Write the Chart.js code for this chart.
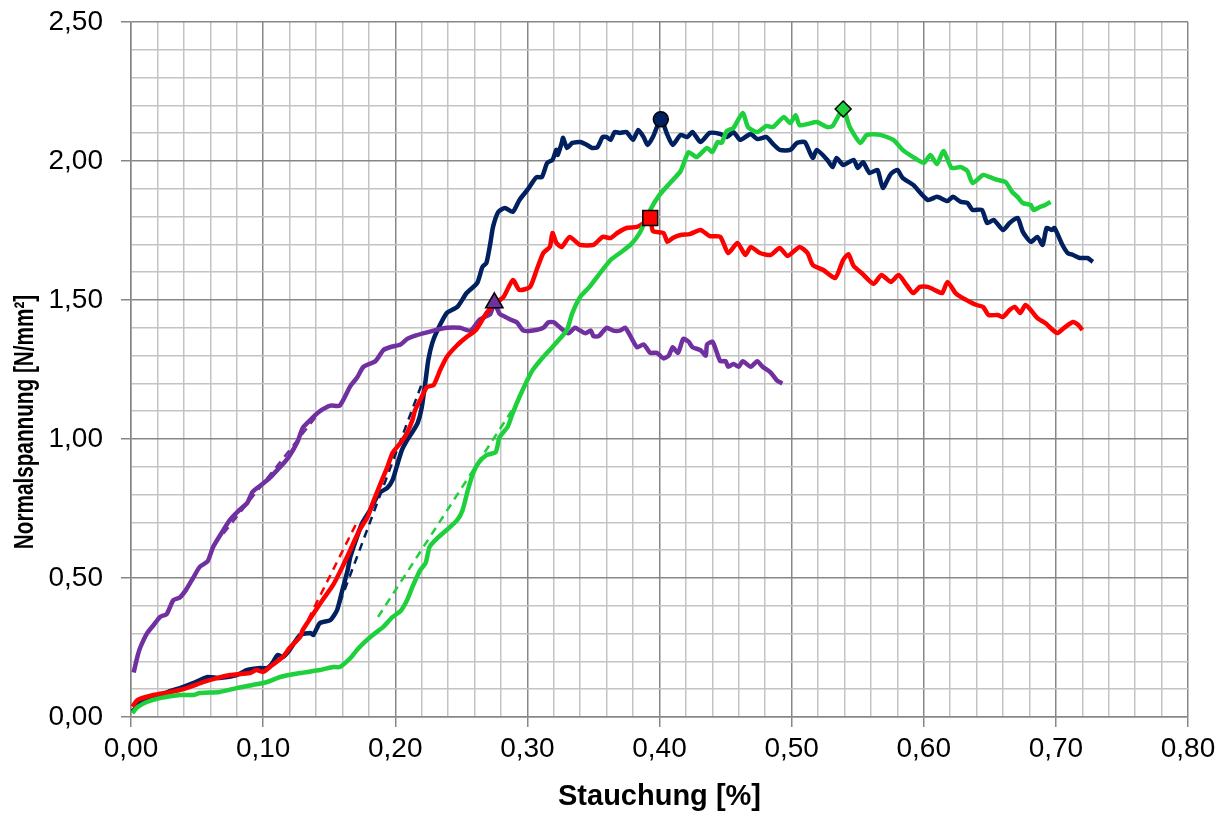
<!DOCTYPE html>
<html>
<head>
<meta charset="utf-8">
<script src="https://cdn.jsdelivr.net/npm/chart.js@4.4.1/dist/chart.umd.min.js"></script>
<style>
    html, body { margin: 0; padding: 0; background: #fff; }
    canvas { display: block; }
</style>
</head>
<body>
<canvas id="chart" width="1228" height="814"></canvas>
<script>
// Stauchung [%] -> Normalspannung [N/mm²]
const navy = [
    [0.001,0.019],[0.007,0.050],[0.014,0.065],[0.022,0.079],[0.030,0.094],[0.037,0.104],[0.047,0.122],[0.058,0.144],
    [0.067,0.140],[0.080,0.151],[0.088,0.169],[0.098,0.176],[0.103,0.176],[0.107,0.194],[0.111,0.223],[0.115,0.216],
    [0.120,0.241],[0.128,0.295],[0.136,0.302],[0.138,0.295],[0.143,0.338],[0.151,0.349],[0.156,0.385],[0.160,0.457],
    [0.164,0.529],[0.166,0.576],[0.171,0.647],[0.175,0.698],[0.181,0.745],[0.188,0.806],[0.194,0.824],[0.198,0.853],
    [0.201,0.899],[0.205,0.960],[0.209,0.996],[0.213,1.025],[0.217,1.058],[0.220,1.112],[0.223,1.212],[0.225,1.284],
    [0.228,1.345],[0.232,1.392],[0.239,1.453],[0.247,1.475],[0.254,1.525],[0.262,1.561],[0.266,1.619],[0.269,1.633],
    [0.272,1.705],[0.274,1.763],[0.278,1.817],[0.283,1.831],[0.289,1.817],[0.294,1.860],[0.300,1.896],[0.304,1.924],
    [0.307,1.942],[0.311,1.942],[0.315,1.993],[0.319,2.004],[0.321,2.029],[0.322,2.040],[0.323,2.022],[0.326,2.065],
    [0.327,2.083],[0.330,2.047],[0.334,2.065],[0.340,2.068],[0.345,2.058],[0.349,2.047],[0.353,2.050],[0.357,2.086],
    [0.360,2.086],[0.363,2.076],[0.366,2.104],[0.370,2.101],[0.375,2.104],[0.380,2.076],[0.384,2.112],[0.388,2.086],
    [0.391,2.058],[0.395,2.086],[0.401,2.151],[0.406,2.094],[0.410,2.058],[0.416,2.094],[0.421,2.086],[0.425,2.104],
    [0.431,2.068],[0.438,2.101],[0.446,2.097],[0.451,2.086],[0.456,2.104],[0.461,2.076],[0.469,2.097],[0.474,2.079],
    [0.481,2.086],[0.486,2.061],[0.491,2.040],[0.499,2.040],[0.504,2.065],[0.510,2.068],[0.516,2.011],[0.519,2.040],
    [0.527,2.004],[0.531,1.978],[0.534,2.011],[0.539,1.986],[0.547,2.004],[0.550,1.975],[0.554,1.996],[0.559,1.957],
    [0.565,1.968],[0.569,1.903],[0.575,1.953],[0.580,1.968],[0.584,1.939],[0.592,1.914],[0.603,1.860],[0.610,1.871],
    [0.618,1.856],[0.622,1.871],[0.628,1.853],[0.633,1.849],[0.637,1.824],[0.644,1.824],[0.648,1.777],[0.653,1.788],
    [0.660,1.752],[0.665,1.777],[0.671,1.795],[0.675,1.745],[0.681,1.709],[0.686,1.727],[0.690,1.698],[0.693,1.759],
    [0.697,1.752],[0.699,1.759],[0.705,1.698],[0.709,1.669],[0.713,1.662],[0.718,1.651],[0.724,1.651],[0.728,1.637]
];
const red = [
    [0.001,0.037],[0.005,0.061],[0.017,0.079],[0.030,0.090],[0.042,0.104],[0.055,0.126],[0.065,0.140],[0.075,0.151],
    [0.090,0.158],[0.095,0.169],[0.100,0.162],[0.107,0.187],[0.115,0.216],[0.120,0.248],[0.128,0.288],[0.130,0.313],
    [0.138,0.371],[0.145,0.421],[0.153,0.475],[0.160,0.540],[0.166,0.601],[0.173,0.673],[0.179,0.719],[0.183,0.770],
    [0.190,0.853],[0.194,0.899],[0.198,0.950],[0.204,0.986],[0.209,1.022],[0.213,1.068],[0.215,1.104],[0.220,1.151],
    [0.224,1.187],[0.229,1.194],[0.234,1.248],[0.239,1.295],[0.247,1.338],[0.254,1.367],[0.261,1.392],[0.269,1.453],
    [0.276,1.489],[0.282,1.511],[0.289,1.572],[0.294,1.536],[0.302,1.547],[0.307,1.608],[0.312,1.669],[0.317,1.691],
    [0.319,1.741],[0.322,1.705],[0.326,1.691],[0.332,1.727],[0.340,1.698],[0.350,1.698],[0.357,1.727],[0.363,1.723],
    [0.368,1.741],[0.375,1.759],[0.383,1.763],[0.388,1.777],[0.393,1.795],[0.395,1.748],[0.403,1.741],[0.406,1.709],
    [0.410,1.723],[0.416,1.734],[0.423,1.737],[0.431,1.752],[0.438,1.730],[0.446,1.727],[0.452,1.669],[0.459,1.705],
    [0.465,1.662],[0.469,1.691],[0.476,1.669],[0.484,1.662],[0.491,1.687],[0.497,1.658],[0.506,1.691],[0.512,1.669],
    [0.516,1.626],[0.524,1.608],[0.533,1.579],[0.539,1.644],[0.543,1.665],[0.547,1.622],[0.553,1.597],[0.562,1.558],
    [0.568,1.590],[0.575,1.565],[0.581,1.590],[0.587,1.554],[0.592,1.525],[0.597,1.547],[0.603,1.547],[0.610,1.532],
    [0.614,1.525],[0.618,1.565],[0.624,1.525],[0.628,1.511],[0.635,1.493],[0.640,1.482],[0.645,1.475],[0.649,1.446],
    [0.656,1.446],[0.660,1.439],[0.665,1.464],[0.669,1.475],[0.673,1.453],[0.677,1.482],[0.681,1.464],[0.686,1.435],
    [0.692,1.417],[0.696,1.399],[0.701,1.381],[0.706,1.399],[0.713,1.421],[0.717,1.410],[0.720,1.392]
];
const green = [
    [0.001,0.014],[0.005,0.036],[0.012,0.054],[0.022,0.068],[0.037,0.079],[0.047,0.079],[0.052,0.086],[0.067,0.090],
    [0.080,0.104],[0.092,0.115],[0.103,0.126],[0.113,0.144],[0.128,0.158],[0.143,0.169],[0.153,0.180],[0.158,0.180],
    [0.166,0.212],[0.171,0.241],[0.176,0.266],[0.183,0.295],[0.191,0.324],[0.198,0.360],[0.204,0.381],[0.209,0.421],
    [0.213,0.468],[0.219,0.529],[0.223,0.554],[0.226,0.612],[0.232,0.644],[0.239,0.673],[0.247,0.709],[0.251,0.745],
    [0.255,0.817],[0.259,0.878],[0.263,0.914],[0.269,0.942],[0.276,0.953],[0.279,1.007],[0.285,1.043],[0.289,1.094],
    [0.294,1.151],[0.300,1.212],[0.304,1.248],[0.312,1.295],[0.319,1.331],[0.325,1.363],[0.330,1.392],[0.334,1.453],
    [0.340,1.511],[0.347,1.547],[0.355,1.597],[0.363,1.644],[0.370,1.669],[0.378,1.698],[0.385,1.741],[0.393,1.824],
    [0.400,1.878],[0.408,1.921],[0.416,1.964],[0.422,2.032],[0.428,2.014],[0.436,2.047],[0.440,2.032],[0.444,2.068],
    [0.447,2.065],[0.451,2.108],[0.456,2.119],[0.463,2.173],[0.467,2.122],[0.474,2.104],[0.481,2.126],[0.486,2.122],
    [0.494,2.158],[0.499,2.137],[0.503,2.165],[0.506,2.129],[0.512,2.133],[0.519,2.140],[0.527,2.122],[0.531,2.126],
    [0.539,2.187],[0.544,2.122],[0.552,2.065],[0.557,2.094],[0.567,2.094],[0.577,2.076],[0.584,2.040],[0.592,2.014],
    [0.600,1.993],[0.605,2.022],[0.610,1.989],[0.615,2.036],[0.621,1.975],[0.628,1.978],[0.633,1.964],[0.637,1.921],
    [0.645,1.950],[0.650,1.942],[0.656,1.932],[0.662,1.924],[0.667,1.888],[0.671,1.871],[0.675,1.849],[0.681,1.842],
    [0.683,1.824],[0.688,1.835],[0.692,1.842],[0.696,1.853]
];
const purple = [
    [0.002,0.16],[0.005,0.22],[0.007,0.25],[0.012,0.30],[0.017,0.33],[0.022,0.36],[0.027,0.37],[0.032,0.42],
    [0.037,0.43],[0.042,0.46],[0.047,0.50],[0.052,0.54],[0.058,0.56],[0.062,0.61],[0.067,0.65],[0.075,0.71],
    [0.081,0.74],[0.088,0.77],[0.092,0.81],[0.100,0.84],[0.105,0.86],[0.111,0.89],[0.115,0.91],[0.120,0.94],
    [0.126,0.99],[0.130,1.04],[0.136,1.07],[0.143,1.10],[0.151,1.12],[0.158,1.12],[0.166,1.19],[0.171,1.22],
    [0.176,1.26],[0.185,1.28],[0.191,1.32],[0.196,1.33],[0.204,1.34],[0.209,1.36],[0.214,1.37],[0.221,1.38],
    [0.229,1.39],[0.239,1.40],[0.249,1.40],[0.257,1.39],[0.264,1.43],[0.272,1.45],[0.275,1.49],[0.279,1.45],
    [0.283,1.44],[0.287,1.43],[0.292,1.42],[0.297,1.39],[0.304,1.39],[0.312,1.40],[0.316,1.42],[0.320,1.42],
    [0.325,1.40],[0.331,1.38],[0.336,1.40],[0.340,1.39],[0.344,1.38],[0.348,1.39],[0.350,1.37],[0.354,1.37],
    [0.360,1.40],[0.365,1.39],[0.370,1.39],[0.374,1.40],[0.378,1.37],[0.383,1.33],[0.388,1.34],[0.393,1.31],
    [0.398,1.31],[0.403,1.29],[0.407,1.30],[0.410,1.33],[0.414,1.31],[0.418,1.36],[0.422,1.35],[0.425,1.33],
    [0.431,1.32],[0.435,1.30],[0.436,1.34],[0.440,1.35],[0.442,1.33],[0.446,1.28],[0.450,1.28],[0.452,1.26],
    [0.456,1.27],[0.460,1.26],[0.463,1.28],[0.469,1.26],[0.474,1.28],[0.478,1.26],[0.484,1.24],[0.489,1.21],
    [0.493,1.20]
];

// dashed straight fits in the rising part
const navyFit = [[0.158, 0.41], [0.221, 1.21]];
const redFit = [[0.134, 0.35], [0.172, 0.71]];
const greenFit = [[0.187, 0.36], [0.292, 1.13]];
const purpleFit = [[0.070, 0.66], [0.140, 1.08]];

// peak points
const navyPeak = [0.401, 2.15];
const redPeak = [0.393, 1.795];
const greenPeak = [0.539, 2.187];
const purplePeak = [0.275, 1.49];

const xLabel = "Stauchung [%]";
const yLabel = "Normalspannung [N/mm²]";

const NAVY = "#002060";
const RED = "#ff0000";
const GREEN = "#1ed03c";
const PURPLE = "#7030a0";
const FONT = "'Liberation Sans', Arial, sans-serif";

const isMajor = (v, per) => Math.abs(v * per - Math.round(v * per)) < 1e-6;
const fmt = (v) => v.toFixed(2).replace(".", ",");
const toPts = (arr) => arr.map((p) => ({ x: p[0], y: p[1] }));

function curve(data, color, order) {
    return {
        data: toPts(data),
        borderColor: color,
        backgroundColor: color,
        borderWidth: 4.5,
        pointRadius: 0,
        showLine: true,
        tension: 0.2,
        order: order,
    };
}
function fit(data, color) {
    return {
        data: toPts(data),
        borderColor: color,
        borderWidth: 2.5,
        borderDash: [8, 6],
        pointRadius: 0,
        showLine: true,
        order: 9,
    };
}
function peak(p, color, style, r) {
    return {
        data: [{ x: p[0], y: p[1] }],
        pointStyle: style,
        pointRadius: r,
        pointBackgroundColor: color,
        pointBorderColor: "#000",
        pointBorderWidth: 1.5,
        showLine: false,
        order: 0,
    };
}

function gridColor(per) {
    return (ctx) => (isMajor(ctx.tick.value, per) ? "#878787" : "#c3c3c3");
}
function tickColor(per) {
    return (ctx) => (isMajor(ctx.tick.value, per) ? "#878787" : "rgba(0,0,0,0)");
}

// the y title sits a bit below the middle and is set in a narrow face
const yTitle = {
    id: "yTitle",
    afterDraw(chart) {
        const ctx = chart.ctx;
        ctx.save();
        ctx.translate(25, 422);
        ctx.rotate(-Math.PI / 2);
        ctx.scale(0.74, 1);
        ctx.font = "bold 28px " + FONT;
        ctx.fillStyle = "#000";
        ctx.textAlign = "center";
        ctx.textBaseline = "middle";
        ctx.fillText(yLabel, 0, 0);
        ctx.restore();
    },
};

new Chart(document.getElementById("chart"), {
    type: "scatter",
    data: {
        datasets: [
            curve(navy, NAVY, 4),
            curve(purple, PURPLE, 3),
            curve(red, RED, 2),
            curve(green, GREEN, 1),
            fit(navyFit, NAVY),
            fit(redFit, RED),
            fit(greenFit, GREEN),
            fit(purpleFit, PURPLE),
            peak(navyPeak, NAVY, "circle", 7.5),
            peak(redPeak, RED, "rect", 10.5),
            peak(greenPeak, GREEN, "rectRot", 8),
            peak(purplePeak, PURPLE, "triangle", 10),
        ],
    },
    plugins: [yTitle],
    options: {
        responsive: false,
        animation: false,
        layout: { padding: { top: 22, right: 40, left: 0, bottom: 0 } },
        plugins: {
            legend: { display: false },
            tooltip: { enabled: false },
        },
        scales: {
            x: {
                type: "linear",
                min: 0,
                max: 0.8,
                ticks: {
                    stepSize: 0.02,
                    autoSkip: false,
                    maxRotation: 0,
                    padding: 5,
                    color: "#000",
                    font: { family: FONT, size: 28 },
                    callback: (v) => (isMajor(v, 10) ? fmt(v) : ""),
                },
                grid: {
                    color: gridColor(10),
                    tickColor: tickColor(10),
                    lineWidth: 1.5,
                    tickLength: 10,
                },
                border: { color: "#878787", width: 1.5 },
                title: {
                    display: true,
                    text: xLabel,
                    color: "#000",
                    font: { family: FONT, size: 29, weight: "bold" },
                    padding: 0,
                },
                afterFit: (s) => {
                    s.height = 97;
                    s.paddingLeft = 0;
                    s.paddingRight = 0;
                },
            },
            y: {
                type: "linear",
                min: 0,
                max: 2.5,
                ticks: {
                    stepSize: 0.1,
                    autoSkip: false,
                    padding: 18,
                    color: "#000",
                    font: { family: FONT, size: 28 },
                    callback: (v) => (isMajor(v, 2) ? fmt(v) : ""),
                },
                grid: {
                    color: gridColor(2),
                    tickColor: tickColor(2),
                    lineWidth: 1.5,
                    tickLength: 10,
                },
                border: { color: "#878787", width: 1.5 },
                title: { display: false },
                afterFit: (s) => {
                    s.width = 131;
                    s.paddingTop = 0;
                    s.paddingBottom = 0;
                },
            },
        },
    },
});
</script>
</body>
</html>
